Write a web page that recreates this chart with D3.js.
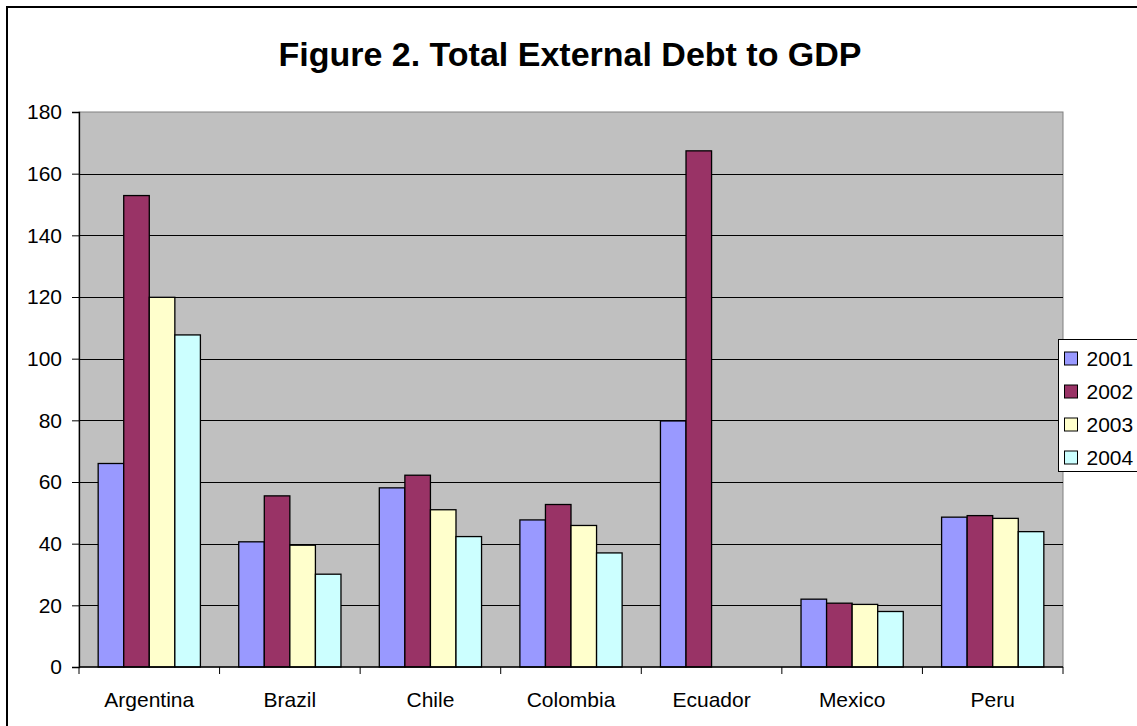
<!DOCTYPE html>
<html>
<head>
<meta charset="UTF-8">
<title>Figure 2. Total External Debt to GDP</title>
<script src="https://d3js.org/d3.v7.min.js"></script>
<style>
  body { margin: 0; padding: 0; background: #fff; }
  svg { display: block; font-family: Arial, "Liberation Sans", sans-serif; }
</style>
</head>
<body>
<div id="chart"></div>
<script>
// data
const countries = ["Argentina", "Brazil", "Chile", "Colombia", "Ecuador", "Mexico", "Peru"];
const years = ["2001", "2002", "2003", "2004"];
const debt2001 = [66, 40.6, 58.1, 47.7, 79.8, 22.0, 48.6];
const debt2002 = [152.9, 55.5, 62.2, 52.7, 167.4, 20.7, 49.1];
const debt2003 = [119.9, 39.5, 51.0, 45.9, null, 20.3, 48.2];
const debt2004 = [107.7, 30.1, 42.3, 37.0, null, 18.0, 43.9];
const yTicks = [0, 20, 40, 60, 80, 100, 120, 140, 160, 180];
const colors = ["#9999ff", "#993366", "#ffffcc", "#ccffff"];

const series = [debt2001, debt2002, debt2003, debt2004];

const width = 1137, height = 726;
const plot = { left: 79, right: 1063, top: 112, bottom: 667 };

const svg = d3.select("#chart").append("svg")
  .attr("width", width)
  .attr("height", height);

// outer chart frame (runs off the right and bottom edges)
svg.append("rect")
  .attr("x", 7).attr("y", 7)
  .attr("width", width + 20).attr("height", height + 20)
  .attr("fill", "#fff")
  .attr("stroke", "#000")
  .attr("stroke-width", 2);

svg.append("text")
  .attr("x", 570).attr("y", 66)
  .attr("text-anchor", "middle")
  .attr("font-size", 34)
  .attr("font-weight", "bold")
  .text("Figure 2. Total External Debt to GDP");

const x0 = d3.scaleBand().domain(countries).range([plot.left, plot.right]);
const bw = x0.bandwidth();
const barW = bw / 5.5; // 150% gap width
const x1 = d3.scaleBand().domain(years).range([0.75 * barW, 4.75 * barW]);
const y = d3.scaleLinear().domain([0, 180]).range([plot.bottom, plot.top]);

// plot area
svg.append("rect")
  .attr("x", plot.left).attr("y", plot.top)
  .attr("width", plot.right - plot.left).attr("height", plot.bottom - plot.top)
  .attr("fill", "#c0c0c0")
  .attr("stroke", "#808080")
  .attr("stroke-width", 1);

// gridlines
svg.append("g")
  .selectAll("line")
  .data(yTicks.filter(t => t > 0 && t < 180))
  .join("line")
  .attr("x1", plot.left).attr("x2", plot.right)
  .attr("y1", d => Math.round(y(d)) + 0.5).attr("y2", d => Math.round(y(d)) + 0.5)
  .attr("stroke", "#000")
  .attr("stroke-width", 1);

// bars
const groups = svg.append("g")
  .selectAll("g")
  .data(countries)
  .join("g")
  .attr("transform", d => `translate(${x0(d)},0)`);

groups.selectAll("rect")
  .data((c, i) => years.map((yr, k) => ({ yr, k, v: series[k][i] })).filter(d => d.v != null))
  .join("rect")
  .attr("x", d => x1(d.yr))
  .attr("width", x1.bandwidth())
  .attr("y", d => y(d.v))
  .attr("height", d => y(0) - y(d.v))
  .attr("fill", d => colors[d.k])
  .attr("stroke", "#000")
  .attr("stroke-width", 1.3);

// y axis
const yAxis = d3.axisLeft(y).tickValues(yTicks).tickSize(7).tickPadding(10);
const gy = svg.append("g")
  .attr("transform", `translate(${plot.left},0)`)
  .call(yAxis);
gy.select(".domain").attr("stroke", "#000").attr("stroke-width", 1.3);
gy.selectAll(".tick line").attr("stroke", "#000");
gy.selectAll("text")
  .attr("font-size", 21)
  .attr("fill", "#000")
  .attr("font-family", "Arial, 'Liberation Sans', sans-serif");

// x axis: ticks at category boundaries
const gx = svg.append("g")
  .attr("transform", `translate(0,${plot.bottom})`);
gx.append("line")
  .attr("x1", plot.left).attr("x2", plot.right)
  .attr("stroke", "#000").attr("stroke-width", 1.3);
gx.selectAll(".sep")
  .data(countries.map(c => x0(c)).concat([plot.right]))
  .join("line")
  .attr("class", "sep")
  .attr("x1", d => d).attr("x2", d => d)
  .attr("y1", 0).attr("y2", 7)
  .attr("stroke", "#000");
gx.selectAll("text")
  .data(countries)
  .join("text")
  .attr("x", d => x0(d) + bw / 2)
  .attr("y", 40)
  .attr("text-anchor", "middle")
  .attr("font-size", 21)
  .text(d => d);

// legend
const lg = svg.append("g").attr("transform", "translate(1058.5,339.5)");
lg.append("rect")
  .attr("width", 100).attr("height", 132)
  .attr("fill", "#fff")
  .attr("stroke", "#000");
const items = lg.selectAll("g.item")
  .data(years)
  .join("g")
  .attr("class", "item")
  .attr("transform", (d, i) => `translate(0,${19 + i * 33})`);
items.append("rect")
  .attr("x", 6).attr("y", -6.5)
  .attr("width", 13).attr("height", 13)
  .attr("fill", (d, i) => colors[i])
  .attr("stroke", "#000");
items.append("text")
  .attr("x", 28).attr("y", 0)
  .attr("dy", "0.36em")
  .attr("font-size", 21)
  .text(d => d);
</script>
</body>
</html>
